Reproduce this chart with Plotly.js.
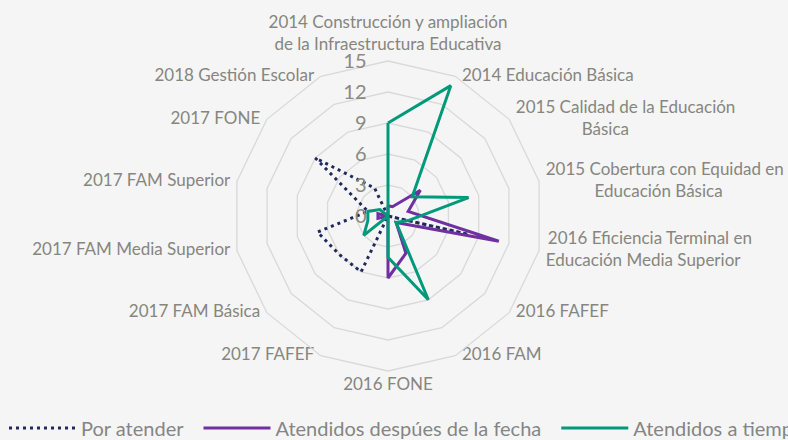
<!DOCTYPE html>
<html>
<head>
<meta charset="utf-8">
<script src="https://cdn.plot.ly/plotly-3.0.1.min.js"></script>
<style>
html,body{margin:0;padding:0;background:#f5f5f5;overflow:hidden;width:788px;height:440px;}
#chart{width:900px;height:440px;}
</style>
</head>
<body>
<div id="chart"></div>
<script>
// Categories (clockwise from top)
var categories = [
  "2014 Construcción y ampliación de la Infraestructura Educativa",
  "2014 Educación Básica",
  "2015 Calidad de la Educación Básica",
  "2015 Cobertura con Equidad en Educación Básica",
  "2016 Eficiencia Terminal en Educación Media Superior",
  "2016 FAFEF",
  "2016 FAM",
  "2016 FONE",
  "2017 FAFEF",
  "2017 FAM Básica",
  "2017 FAM Media Superior",
  "2017 FAM Superior",
  "2017 FONE",
  "2018 Gestión Escolar"
];
// Category labels as wrapped in the chart
var EM = "\u2003", TH = "\u2009";
var tickLabels = [
  "2014 Construcción y ampliación<br>de la Infraestructura Educativa",
  "2014 Educación Básica",
  "2015 Calidad de la Educación<br>" + EM + EM + EM + EM + EM + TH + "Básica",
  "2015 Cobertura con Equidad en<br>" + EM + EM + EM + "\u2002" + TH + "Educación Básica",
  TH + "2016 Eficiencia Terminal en<br>Educación Media Superior",
  "2016 FAFEF",
  "2016 FAM",
  "2016 FONE",
  "2017 FAFEF",
  "2017 FAM Básica",
  "2017 FAM Media Superior",
  "2017 FAM Superior",
  "2017 FONE",
  "2018 Gestión Escolar"
];
var porAtender  = [0, 0, 0, 0, 8, 0, 0, 0, 6, 6, 7, 2, 9, 3];
var despues     = [1, 1, 4, 2, 11, 1, 4, 6, 0, 0, 1, 1, 0, 0];
var aTiempo     = [9, 14, 3, 8, 2, 1, 9, 4, 0, 3, 2, 2, 1, 0];
var seriesNames = ["Por atender", "Atendidos despúes de la fecha", "Atendidos a tiempo"];
var radialTicks = [0, 3, 6, 9, 12, 15];

function closed(a){ return a.concat([a[0]]); }
var LGAP = "\u2002"; // trailing gap in legend entries

var W = 900, H = 440;
var cx = 388, cy = 216, R = 155;
var rMax = radialTicks[radialTicks.length - 1];

// label placement side derived from each category's angle (clockwise from top)
var n = categories.length;
var labelPos = categories.map(function(c, i){
  var a = (90 - 360 * i / n) * Math.PI / 180;
  var cs = Math.cos(a), sn = Math.sin(a);
  if (cs > 0.1) return 'middle right';
  if (cs < -0.1) return 'middle left';
  return sn > 0 ? 'top center' : 'bottom center';
});

var traces = [
  {type:'scatterpolar', mode:'lines', name:seriesNames[0] + LGAP, r:closed(porAtender), theta:closed(categories),
   line:{color:'#1f2a5c', width:3, dash:'3px,4px'}, hoverinfo:'skip'},
  {type:'scatterpolar', mode:'lines', name:seriesNames[1] + LGAP, r:closed(despues), theta:closed(categories),
   line:{color:'#7030a0', width:3}, hoverinfo:'skip'},
  {type:'scatterpolar', mode:'lines', name:seriesNames[2], r:closed(aTiempo), theta:closed(categories),
   line:{color:'#009a7b', width:3}, hoverinfo:'skip'},
  {type:'scatterpolar', mode:'markers+text', showlegend:false, cliponaxis:false, hoverinfo:'skip',
   r:categories.map(function(){ return rMax; }), theta:categories,
   text:tickLabels, textposition:labelPos,
   marker:{size:9, opacity:0},
   textfont:{size:17, color:'#86867f', family:'Lato, "Noto Sans", sans-serif'}}
];

var layout = {
  width: W, height: H,
  margin:{l:0,r:0,t:0,b:0, autoexpand:false},
  paper_bgcolor:'#f5f5f5',
  plot_bgcolor:'#f5f5f5',
  font:{family:'Lato, "Noto Sans", sans-serif', color:'#86867f'},
  showlegend:true,
  legend:{orientation:'h', x:4/W, xanchor:'left', y:(H-428)/H, yanchor:'middle',
          font:{size:20, color:'#858585'}, itemwidth:67, bgcolor:'rgba(0,0,0,0)'},
  polar:{
    domain:{x:[(cx-R)/W,(cx+R)/W], y:[(H-cy-R)/H,(H-cy+R)/H]},
    bgcolor:'#f5f5f5',
    gridshape:'linear',
    radialaxis:{range:[0,rMax], tickvals:radialTicks, angle:90, tickangle:90, side:'counterclockwise',
      showline:false, ticks:'outside', ticklen:14, tickcolor:'rgba(0,0,0,0)',
      gridcolor:'#d9d9d9', gridwidth:1.3,
      tickfont:{size:20, color:'#8a8a82'}},
    angularaxis:{type:'category', categoryarray:categories, rotation:90, direction:'clockwise',
      showticklabels:false, showgrid:false, showline:true, linecolor:'#d9d9d9', linewidth:1.3,
      ticks:''}
  }
};

Plotly.newPlot('chart', traces, layout, {displayModeBar:false, staticPlot:true});
</script>
</body>
</html>
